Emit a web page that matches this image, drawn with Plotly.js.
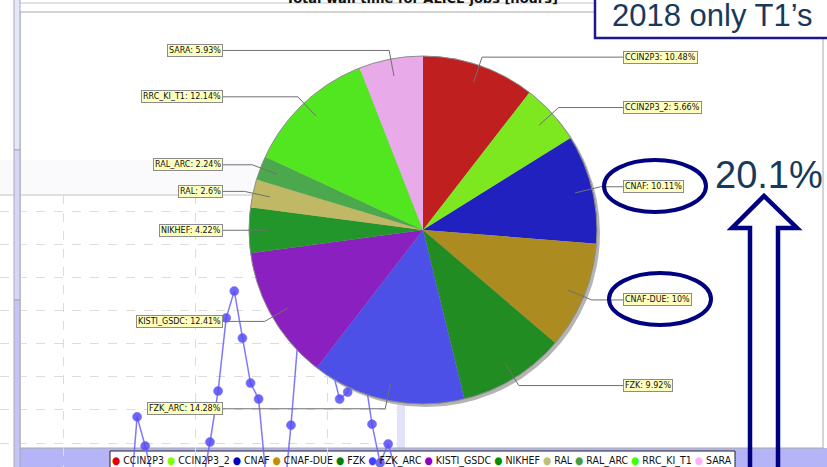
<!DOCTYPE html>
<html><head><meta charset="utf-8">
<script src="https://cdn.plot.ly/plotly-3.0.1.min.js"></script>
<style>html,body{margin:0;padding:0;background:#fff;overflow:hidden}#chart{width:827px;height:467px}</style>
</head><body><div id="chart"></div>
<script>
// ---- data ----
const categories = ['CCIN2P3','CCIN2P3_2','CNAF','CNAF-DUE','FZK','FZK_ARC','KISTI_GSDC','NIKHEF','RAL','RAL_ARC','RRC_KI_T1','SARA'];
const shares = [10.48, 5.66, 10.11, 10, 9.92, 14.28, 12.41, 4.22, 2.6, 2.24, 12.14, 5.93];
const sliceColors = ['#c01f20','#7de81f','#2121c0','#ac8c21','#218c21','#4c50e6','#8a20c0','#22962a','#c0b864','#4ca84c','#52e620','#e8aae8'];
const legendColors = ['#e00000','#80ff00','#0000c0','#c09000','#008000','#4040ff','#9000c0','#009000','#c0c070','#40a040','#40ff00','#ffb0ff'];
const chartTitle = 'Total wall time for ALICE jobs [hours]';
const noteTitle = '2018 only T1\u2019s';
const noteValue = '20.1%';
// background time series (partly hidden behind the pie)
const jobDays = [0,1,2,3,4,5,6,7,8,9,10,11,12,13,14,15,16,17,18,19,20,21,22,23,24,25,26,27,28,29,30,31,32,33];
const jobCounts = [-1.24,1.79,0.91,-0.12,-0.6,-0.8,-0.5,-0.7,-0.9,-0.3,1.03,2.57,4.78,5.59,4.17,2.81,2.33,-0.27,-0.6,-1.0,1.54,4.56,5.2,4.9,4.4,3.3,2.33,2.54,4.0,3.2,1.57,0.40,0.97,0.1];

// ---- geometry helpers (pixels -> paper) ----
const W = 827, H = 467;
const X = p => p / W, Y = p => 1 - p / H;
const CX = 423, CY = 230, R = 174;

const shapes = [];
const annotations = [];
const rect = (x0, y0, x1, y1, fill, line, lw, layer) => shapes.push({type:'rect', xref:'paper', yref:'paper', x0:X(x0), x1:X(x1), y0:Y(y1), y1:Y(y0), fillcolor:fill, line:{color:line, width:lw}, layer:layer});
const seg = (x0, y0, x1, y1, color, lw, layer) => shapes.push({type:'line', xref:'paper', yref:'paper', x0:X(x0), x1:X(x1), y0:Y(y0), y1:Y(y1), line:{color:color, width:lw}, layer:layer});

// background windows
rect(0, 160, 397, 195, '#fafafc', 'rgba(0,0,0,0)', 0, 'below');
rect(20, 448, 827, 470, '#b4b4f6', 'rgba(0,0,0,0)', 0, 'below');
rect(397, 195, 405, 448, '#e2e2fa', 'rgba(0,0,0,0)', 0, 'below');
rect(20, 12, 823, 448, 'rgba(0,0,0,0)', '#a8a8a8', 1, 'below');
seg(14, 3, 600, 3, '#c4c4c4', 1, 'below');
seg(0, 195, 397, 195, '#c2c2c2', 1.2, 'below');
// pie shadow
shapes.push({type:'circle', xref:'paper', yref:'paper', x0:X(CX-R+3), x1:X(CX+R+3), y0:Y(CY+R+3), y1:Y(CY-R+3), fillcolor:'#b4b4b4', line:{width:0}, layer:'below'});
// legend box
rect(110, 451, 735, 472, '#ffffff', '#222222', 1, 'below');
// left lavender strip
rect(14, -2, 20, 150, '#e6e6fb', '#a8a8b8', 1, 'above');
rect(14, 150, 20, 300, '#d6d6f9', '#a8a8b8', 1, 'above');
rect(14, 300, 20, 470, '#c4c4f6', '#a8a8b8', 1, 'above');
// pie outline
shapes.push({type:'circle', xref:'paper', yref:'paper', x0:X(CX-R), x1:X(CX+R), y0:Y(CY+R), y1:Y(CY-R), fillcolor:'rgba(0,0,0,0)', line:{color:'#8c8c8c', width:1}, layer:'above'});

// pie labels with leader lines
const total = shares.reduce((a, b) => a + b, 0);
let cum = 0;
shares.forEach((v, k) => {
  const mid = (cum + v / 2) / total * 2 * Math.PI; cum += v;
  const s = Math.sin(mid), c = Math.cos(mid);
  const ax = CX + 0.9 * R * s, ay = CY - 0.9 * R * c;
  const ex = CX + 1.05 * R * s, ey = CY - 1.05 * R * c;
  const right = s > 0;
  const lx = right ? CX + 200 : CX - 200;
  shapes.push({type:'path', xref:'paper', yref:'paper', layer:'above',
    path:`M ${X(ax)},${Y(ay)} L ${X(ex)},${Y(ey)} L ${X(lx)},${Y(ey)}`,
    line:{color:'#707070', width:1}});
  annotations.push({xref:'paper', yref:'paper', x:X(lx), y:Y(ey), xanchor: right ? 'left' : 'right', yanchor:'middle',
    showarrow:false, text:categories[k] + ': ' + v + '%', borderpad:1, borderwidth:1,
    bgcolor:'#ffffc0', bordercolor:'#8c8c8c', font:{family:'DejaVu Sans', size:8, color:'#111'}});
});

// slide overlay: ellipses, arrow, note box
const ell = (cx, cy, rx, ry) => shapes.push({type:'circle', xref:'paper', yref:'paper', x0:X(cx-rx), x1:X(cx+rx), y0:Y(cy+ry), y1:Y(cy-ry), fillcolor:'rgba(0,0,0,0)', line:{color:'#000080', width:4}, layer:'above'});
ell(655, 186, 51, 26);
ell(660, 299, 51, 26);
shapes.push({type:'path', xref:'paper', yref:'paper', layer:'above', fillcolor:'rgba(0,0,0,0)',
  path:`M ${X(750)},${Y(470)} L ${X(750)},${Y(228)} L ${X(732)},${Y(228)} L ${X(764)},${Y(196)} L ${X(797)},${Y(228)} L ${X(778)},${Y(228)} L ${X(778)},${Y(470)}`,
  line:{color:'#000080', width:4.5}});
rect(595, -10, 840, 38, '#ffffff', '#1a1a8a', 2.5, 'above');

// title
annotations.push({xref:'paper', yref:'paper', x:X(422), y:Y(8), xanchor:'center', yanchor:'bottom', showarrow:false, text:'<b>' + chartTitle + '</b>', font:{family:'DejaVu Sans', size:13, color:'#111'}});
// legend text
const legendText = categories.map((n, k) => `<span style="color:${legendColors[k]}">\u25CF</span> ${n}`).join(' ');
annotations.push({xref:'paper', yref:'paper', x:X(422), y:Y(460), xanchor:'center', yanchor:'middle', showarrow:false, text:legendText, font:{family:'Liberation Sans Narrow, DejaVu Sans Condensed, Liberation Sans', size:10.5, color:'#111'}});
// notes
annotations.push({xref:'paper', yref:'paper', x:X(610), y:Y(15), xanchor:'left', yanchor:'middle', showarrow:false, text:noteTitle, font:{family:'Liberation Sans, Arial', size:31, color:'#183a5a'}});
annotations.push({xref:'paper', yref:'paper', x:X(713), y:Y(175), xanchor:'left', yanchor:'middle', showarrow:false, text:noteValue, font:{family:'Liberation Sans, Arial', size:38, color:'#183a5a'}});

const traces = [
  {type:'scatter', mode:'lines+markers', x:jobDays, y:jobCounts, xaxis:'x', yaxis:'y',
   line:{color:'rgba(105,95,255,0.85)', width:1.5},
   marker:{size:9, color:'rgba(85,75,245,0.85)', line:{color:'rgba(120,110,255,0.6)', width:1}},
   hoverinfo:'skip', showlegend:false},
  {type:'pie', labels:categories, values:shares, sort:false, direction:'clockwise', rotation:0,
   marker:{colors:sliceColors, line:{width:0}}, textinfo:'none', hoverinfo:'skip', showlegend:false,
   domain:{x:[X(CX-R), X(CX+R)], y:[Y(CY+R), Y(CY-R)]}}
];

const layout = {
  width:W, height:H, margin:{l:0, r:0, t:0, b:0}, paper_bgcolor:'#ffffff', plot_bgcolor:'rgba(0,0,0,0)',
  showlegend:false,
  xaxis:{domain:[0, X(397)], range:[-129/8.1, 268/8.1], showgrid:true, gridcolor:'#dcdcdc', griddash:'dash', tick0:-66/8.1, dtick:132/8.1, zeroline:false, showticklabels:false, ticks:'', showline:false, fixedrange:true},
  yaxis:{domain:[0, Y(195)], range:[1 - 24/33.1, 1 + 248/33.1], showgrid:true, gridcolor:'#dcdcdc', griddash:'dash', tick0:1, dtick:1, zeroline:false, showticklabels:false, ticks:'', showline:false, fixedrange:true},
  shapes:shapes, annotations:annotations
};
Plotly.newPlot('chart', traces, layout, {staticPlot:true, displayModeBar:false});
</script></body></html>
